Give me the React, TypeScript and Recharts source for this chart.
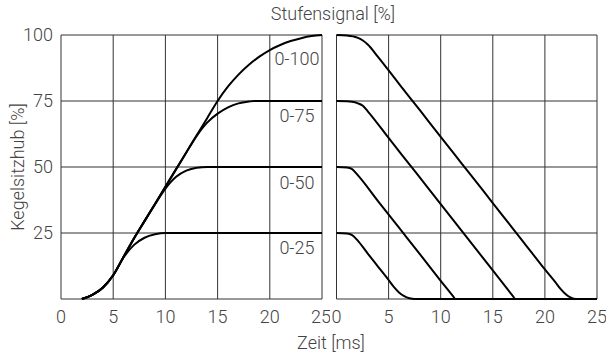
import { LineChart, Line, XAxis, YAxis, CartesianGrid, ReferenceDot } from "recharts";

// x = Zeit [ms], y = Kegelsitzhub [%]
const xTicks = [0, 5, 10, 15, 20, 25];
const yTicks = [0, 25, 50, 75, 100];

// left panel: step up 0 -> x%
const rise100 = [
  { t: 2, v: 0 }, { t: 3, v: 1.6 }, { t: 4, v: 4.3 }, { t: 5, v: 9 },
  { t: 6, v: 16 }, { t: 7, v: 23 }, { t: 8, v: 29.5 }, { t: 9, v: 36 },
  { t: 10, v: 42.5 }, { t: 11, v: 49 }, { t: 12, v: 55.5 }, { t: 13, v: 62 },
  { t: 14, v: 68.5 }, { t: 15, v: 75 }, { t: 16, v: 80.5 }, { t: 17, v: 85 },
  { t: 18, v: 88.7 }, { t: 19, v: 91.8 }, { t: 20, v: 94.3 }, { t: 21, v: 96.2 },
  { t: 22, v: 97.7 }, { t: 23, v: 98.8 }, { t: 24, v: 99.6 }, { t: 25, v: 100 },
];
const rise75 = [
  { t: 2, v: 0 }, { t: 3, v: 1.6 }, { t: 4, v: 4.3 }, { t: 5, v: 9 },
  { t: 6, v: 16 }, { t: 7, v: 23 }, { t: 8, v: 29.5 }, { t: 9, v: 36 },
  { t: 10, v: 42.5 }, { t: 11, v: 49 }, { t: 12, v: 55.5 }, { t: 13, v: 61.8 },
  { t: 14, v: 66.8 }, { t: 15, v: 70.2 }, { t: 16, v: 72.6 }, { t: 17, v: 74.1 },
  { t: 18, v: 74.8 }, { t: 18.5, v: 75 }, { t: 25, v: 75 },
];
const rise50 = [
  { t: 2, v: 0 }, { t: 3, v: 1.6 }, { t: 4, v: 4.3 }, { t: 5, v: 9 },
  { t: 6, v: 16 }, { t: 7, v: 23 }, { t: 8, v: 29.5 }, { t: 9, v: 35.8 },
  { t: 10, v: 41.8 }, { t: 11, v: 46.2 }, { t: 12, v: 48.6 }, { t: 13, v: 49.7 },
  { t: 14, v: 50 }, { t: 25, v: 50 },
];
const rise25 = [
  { t: 2, v: 0 }, { t: 3, v: 1.6 }, { t: 4, v: 4.3 }, { t: 5, v: 9 },
  { t: 6, v: 15.8 }, { t: 7, v: 20.5 }, { t: 8, v: 23.2 }, { t: 9, v: 24.5 },
  { t: 10, v: 25 }, { t: 25, v: 25 },
];

// right panel: step down x% -> 0
const fall100 = [
  { t: 0, v: 100 }, { t: 1, v: 99.8 }, { t: 2, v: 99 }, { t: 2.5, v: 98 },
  { t: 3, v: 96.4 }, { t: 4, v: 91.6 }, { t: 6, v: 81.5 }, { t: 8, v: 71.5 },
  { t: 10, v: 61.4 }, { t: 12, v: 51.4 }, { t: 14, v: 41.4 }, { t: 16, v: 31.3 },
  { t: 18, v: 21.3 }, { t: 20, v: 11.2 }, { t: 21, v: 6.4 }, { t: 21.5, v: 3.8 },
  { t: 22, v: 1.8 }, { t: 22.5, v: 0.5 }, { t: 23, v: 0 }, { t: 25, v: 0 },
];
const fall75 = [
  { t: 0, v: 75 }, { t: 1, v: 74.9 }, { t: 1.5, v: 74.7 }, { t: 2, v: 74.2 },
  { t: 2.5, v: 73.3 }, { t: 3, v: 71.1 }, { t: 5, v: 61 }, { t: 7, v: 51 },
  { t: 9, v: 41 }, { t: 11, v: 30.9 }, { t: 13, v: 20.9 }, { t: 15, v: 10.8 },
  { t: 16.95, v: 1 }, { t: 17.15, v: 0 }, { t: 25, v: 0 },
];
const fall50 = [
  { t: 0, v: 50 }, { t: 1, v: 49.8 }, { t: 1.5, v: 49.2 }, { t: 2, v: 47.1 },
  { t: 4, v: 37 }, { t: 6, v: 27 }, { t: 8, v: 17 }, { t: 10, v: 6.9 },
  { t: 11.2, v: 1 }, { t: 11.4, v: 0 }, { t: 25, v: 0 },
];
const fall25 = [
  { t: 0, v: 25 }, { t: 1, v: 24.8 }, { t: 1.5, v: 24.2 }, { t: 2, v: 22.3 },
  { t: 3, v: 17.2 }, { t: 4, v: 12.2 }, { t: 5, v: 7.2 }, { t: 5.5, v: 4.6 },
  { t: 6, v: 2.5 }, { t: 6.5, v: 1.1 }, { t: 7, v: 0.3 }, { t: 7.5, v: 0 },
  { t: 25, v: 0 },
];

const curveLabels = [
  { t: 22.6, v: 91, text: "0-100" },
  { t: 22.6, v: 69.4, text: "0-75" },
  { t: 22.6, v: 44, text: "0-50" },
  { t: 22.6, v: 19.3, text: "0-25" },
];

const leftSeries = [rise100, rise75, rise50, rise25];
const rightSeries = [fall100, fall75, fall50, fall25];

const textColor = "#444";
const fontSize = 18;
const tickStyle = { fontSize, fill: textColor };

export default function App() {
  return (
    <div
      style={{
        position: "absolute",
        left: 0,
        top: 0,
        width: 606,
        height: 361,
        background: "#fff",
        fontFamily: "Roboto, sans-serif",
        fontWeight: 300,
      }}
    >
      <div style={{ position: "absolute", left: 0, top: 0 }}>
        <LineChart width={330} height={361} margin={{ top: 35, right: 8, left: 0, bottom: 32 }}>
          <CartesianGrid stroke="#333" />
          <XAxis
            type="number"
            dataKey="t"
            domain={[0, 25]}
            ticks={xTicks}
            tickLine={false}
            axisLine={false}
            tick={tickStyle}
            tickMargin={5}
            height={30}
            allowDuplicatedCategory={false}
          />
          <YAxis
            type="number"
            domain={[0, 100]}
            ticks={yTicks}
            tickFormatter={(v) => (v === 0 ? "" : String(v))}
            tickLine={false}
            axisLine={false}
            tick={tickStyle}
            width={61}
          />
          {leftSeries.map((d, i) => (
            <Line
              key={i}
              data={d}
              dataKey="v"
              type="monotone"
              stroke="#000"
              strokeWidth={2}
              dot={false}
              isAnimationActive={false}
            />
          ))}
          {curveLabels.map((l) => (
            <ReferenceDot
              key={l.text}
              x={l.t}
              y={l.v}
              r={0}
              fill="none"
              stroke="none"
              label={{ value: l.text, position: "center", fill: textColor, fontSize }}
            />
          ))}
        </LineChart>
      </div>
      <div style={{ position: "absolute", left: 330, top: 0 }}>
        <LineChart width={276} height={361} margin={{ top: 35, right: 9, left: 6.5, bottom: 32 }}>
          <CartesianGrid stroke="#333" />
          <XAxis
            type="number"
            dataKey="t"
            domain={[0, 25]}
            ticks={xTicks}
            tickLine={false}
            axisLine={false}
            tick={tickStyle}
            tickMargin={5}
            height={30}
            allowDuplicatedCategory={false}
          />
          <YAxis type="number" domain={[0, 100]} ticks={yTicks} hide />
          {rightSeries.map((d, i) => (
            <Line
              key={i}
              data={d}
              dataKey="v"
              type="monotone"
              stroke="#000"
              strokeWidth={2}
              dot={false}
              isAnimationActive={false}
            />
          ))}
        </LineChart>
      </div>
      <div
        style={{
          position: "absolute",
          left: 333,
          top: 3,
          transform: "translateX(-50%)",
          whiteSpace: "nowrap",
          fontSize,
          color: textColor,
        }}
      >
        Stufensignal [%]
      </div>
      <div
        style={{
          position: "absolute",
          left: 331,
          top: 332,
          transform: "translateX(-50%)",
          whiteSpace: "nowrap",
          fontSize,
          color: textColor,
        }}
      >
        Zeit [ms]
      </div>
      <div
        style={{
          position: "absolute",
          left: 17,
          top: 167,
          transform: "translate(-50%, -50%) rotate(-90deg)",
          whiteSpace: "nowrap",
          fontSize,
          color: textColor,
        }}
      >
        Kegelsitzhub [%]
      </div>
    </div>
  );
}
